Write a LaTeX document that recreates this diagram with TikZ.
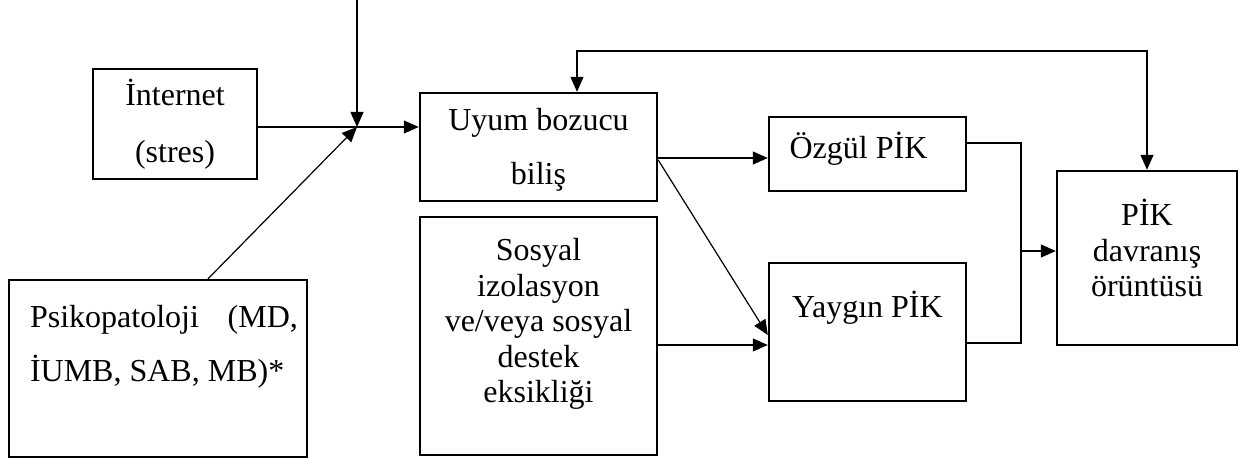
\documentclass[tikz,border=0pt]{standalone}
\usepackage{fontspec}
\setmainfont{Liberation Serif}
\usetikzlibrary{arrows.meta,calc}
\newcommand\fsz[1]{\fontsize{16pt}{#1pt}\selectfont}
\begin{document}
\begin{tikzpicture}[x=0.5pt,y=-0.5pt,
  box/.style={draw, line width=1.2pt, inner sep=0pt},
  con/.style={line width=0.6pt},
  arr/.style={con,-{Triangle[length=7.5pt,width=6.5pt]}},
  darr/.style={con,{Triangle[length=7.5pt,width=6.5pt]}-{Triangle[length=7.5pt,width=6.5pt]}},
  lbl/.style={align=center, inner sep=0pt, label distance=0pt}
]
\useasboundingbox (0,0) rectangle (1242,460);

\node[box, minimum width=82pt, minimum height=55pt,
  label={[lbl,font=\fsz{28.5}]center:{İnternet\\(stres)}}] (int) at (175,124) {};
\node[box, minimum width=149pt, minimum height=88.5pt,
  label={[lbl,align=left,font=\fsz{27},yshift=11pt,xshift=3pt]center:{Psikopatoloji\hspace{0.9em}(MD,\\İUMB, SAB, MB)*}}] (psy) at (158,368.5) {};
\node[box, minimum width=118.5pt, minimum height=54pt,
  label={[lbl,font=\fsz{27},yshift=-1.5pt]center:{Uyum bozucu\\biliş}}] (uyum) at (538.5,147) {};
\node[box, minimum width=118.5pt, minimum height=119pt,
  label={[lbl,font=\fsz{17.75},yshift=6pt]center:{Sosyal\\izolasyon\\ve/veya sosyal\\destek\\eksikliği}}] (sos) at (538.5,336) {};
\node[box, minimum width=98.5pt, minimum height=37pt,
  label={[lbl,font=\fsz{18},yshift=2.5pt,xshift=-4.5pt]center:{Özgül PİK}}] (ozg) at (867.5,154) {};
\node[box, minimum width=98.5pt, minimum height=69pt,
  label={[lbl,font=\fsz{18},yshift=12pt]center:{Yaygın PİK}}] (yay) at (867.5,332) {};
\node[box, minimum width=90pt, minimum height=87pt,
  label={[lbl,font=\fsz{17.75},yshift=5pt]center:{PİK\\davranış\\örüntüsü}}] (pik) at (1147,258) {};

\coordinate (top) at (357,0);
\coordinate (J) at (357,127);
\coordinate (fb) at (577,51);
\coordinate (K) at (1021,251);

\draw[arr] (top) -- (J);
\draw[arr] (int.east |- J) -- (uyum.west |- J);
\draw[arr] ($(psy.north)+(50,0)$) -- (J);
\draw[darr] ($(uyum.north)+(38.5,0)$) -- (fb) -| (pik.north);
\draw[arr] ($(uyum.east)+(0,11)$) -- ($(ozg.west)+(0,4)$);
\draw[arr] ($(uyum.east)+(0,13)$) -- ($(yay.west)+(0,3)$);
\draw[arr] ($(sos.east)+(0,9)$) -- ($(yay.west)+(0,13)$);
\draw[con] ($(ozg.east)+(0,-11)$) -| (K);
\draw[con] ($(yay.east)+(0,11)$) -| (K);
\draw[arr] (K) -- (pik.west |- K);
\end{tikzpicture}
\end{document}
